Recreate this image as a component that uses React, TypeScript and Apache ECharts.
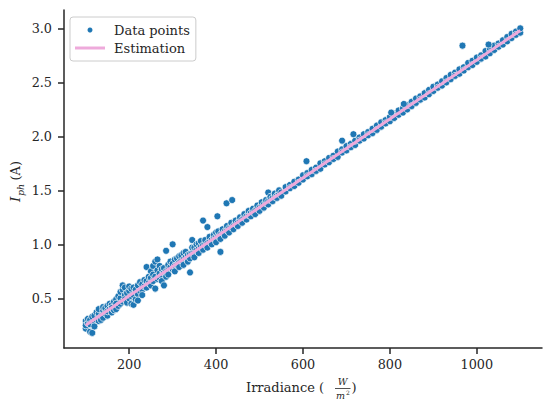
import React, { useEffect, useRef } from "react";
import * as echarts from "echarts";

const xTicks = [200, 400, 600, 800, 1000];
const yTicks = [0.5, 1.0, 1.5, 2.0, 2.5, 3.0];

const lowIrradiance = [
  100, 105, 110, 115, 120, 125, 130, 135, 140, 145, 150, 155, 160, 165, 170, 175, 180, 185, 190, 195,
  200, 205, 210, 215, 220, 225, 230, 235, 240, 245, 250, 255, 260, 265, 270, 275, 280, 285, 290, 295,
  300, 305, 310, 315, 320, 325, 330, 335, 340, 345, 350, 355, 360, 365, 370, 375, 380, 385, 390, 395,
  400, 405, 410, 415, 420, 425, 430, 435, 440, 445, 450, 455, 460, 465, 470, 475, 480, 485, 490, 495,
  500, 505, 510, 515, 520, 525, 530, 535, 540, 545, 550,
];
const lowCurrent = [
  [0.22, 0.29, 0.25], [0.27, 0.31], [0.19, 0.3, 0.26], [0.18, 0.33], [0.28, 0.34, 0.24],
  [0.37, 0.3], [0.29, 0.36, 0.4], [0.33, 0.3], [0.32, 0.39, 0.42], [0.36, 0.41],
  [0.34, 0.43, 0.38], [0.4, 0.45], [0.37, 0.44, 0.41], [0.47, 0.39], [0.4, 0.49, 0.45],
  [0.43, 0.52], [0.5, 0.56, 0.45], [0.58, 0.47, 0.62], [0.53, 0.6, 0.49], [0.55, 0.46],
  [0.5, 0.57, 0.61], [0.45, 0.52, 0.59], [0.44, 0.53, 0.6], [0.49, 0.58], [0.54, 0.62, 0.48],
  [0.57, 0.65], [0.58, 0.63, 0.53], [0.61, 0.67], [0.6, 0.66, 0.79], [0.64, 0.7],
  [0.62, 0.69, 0.75], [0.66, 0.72, 0.8], [0.59, 0.7, 0.84], [0.68, 0.76, 0.86], [0.69, 0.73, 0.8],
  [0.71, 0.77, 0.66], [0.62, 0.74, 0.78], [0.75, 0.94, 0.7], [0.76, 0.81, 0.72], [0.79, 0.84],
  [0.77, 0.82, 1.0], [0.8, 0.86, 0.75], [0.81, 0.87], [0.83, 0.89, 0.79], [0.85, 0.9],
  [0.86, 0.81, 0.92], [0.88, 0.93], [0.9, 0.84], [0.91, 0.87, 0.74], [0.92, 0.97, 1.04],
  [0.93, 0.88, 0.97], [0.95, 1.0], [0.96, 0.92, 1.01], [0.98, 1.03], [0.99, 0.95, 1.22],
  [1.0, 1.04], [1.01, 0.97, 1.16], [1.03, 1.07], [1.04, 1.0], [1.06, 1.09],
  [1.07, 1.02, 1.11], [1.08, 1.12], [1.09, 0.93, 1.05], [1.11, 1.14], [1.12, 1.08],
  [1.13, 1.17], [1.15, 1.11], [1.16, 1.2], [1.17, 1.14], [1.19, 1.22],
  [1.2, 1.17], [1.22, 1.25], [1.23, 1.2], [1.25, 1.28], [1.26, 1.23],
  [1.27, 1.31], [1.29, 1.26], [1.3, 1.33], [1.31, 1.28], [1.33, 1.36],
  [1.34, 1.31], [1.36, 1.39], [1.37, 1.34], [1.38, 1.41], [1.4, 1.37, 1.48],
  [1.41, 1.44], [1.43, 1.4], [1.44, 1.47], [1.45, 1.43], [1.47, 1.5], [1.48, 1.45],
];

const highIrradiance = [
  560, 570, 580, 590, 600, 610, 620, 630, 640, 650, 660, 670, 680, 690, 700, 710, 720, 730, 740, 750,
  760, 770, 780, 790, 800, 810, 820, 830, 840, 850, 860, 870, 880, 890, 900, 910, 920, 930, 940, 950,
  960, 970, 980, 990, 1000, 1010, 1020, 1030, 1040, 1050, 1060, 1070, 1080, 1090, 1100,
];
const highCurrent = [
  [1.49, 1.53], [1.55, 1.52], [1.54, 1.58], [1.6, 1.57], [1.6, 1.64],
  [1.66, 1.63], [1.65, 1.69], [1.71, 1.68], [1.7, 1.75], [1.77, 1.74],
  [1.76, 1.8], [1.82, 1.79], [1.81, 1.86], [1.88, 1.85], [1.87, 1.91],
  [1.93, 1.9], [1.92, 1.96], [1.99, 1.96], [1.98, 2.02], [2.04, 2.01],
  [2.03, 2.07], [2.1, 2.06], [2.09, 2.13], [2.15, 2.12], [2.14, 2.18],
  [2.21, 2.17], [2.2, 2.24], [2.26, 2.22], [2.25, 2.29], [2.32, 2.28],
  [2.31, 2.35], [2.37, 2.34], [2.36, 2.4], [2.43, 2.39], [2.42, 2.46],
  [2.48, 2.45], [2.47, 2.51], [2.54, 2.5], [2.53, 2.57], [2.59, 2.56],
  [2.58, 2.62], [2.64, 2.61], [2.64, 2.68], [2.7, 2.66], [2.69, 2.73],
  [2.75, 2.72], [2.74, 2.79], [2.81, 2.77], [2.8, 2.84], [2.86, 2.83],
  [2.85, 2.89], [2.92, 2.88], [2.91, 2.95], [2.97, 2.94], [2.96, 3.0],
];

const outlierIrradiance = [403, 424, 437, 608, 690, 716, 803, 832, 967, 1027];
const outlierCurrent = [1.26, 1.38, 1.41, 1.77, 1.96, 2.02, 2.22, 2.3, 2.84, 2.85];

const estimationIrradiance = [100, 1100];
const estimationCurrent = [0.25, 2.98];

const INK = "#262626";
const SERIF = "'DejaVu Serif', 'Liberation Serif', serif";
const BLUE = "#1f77b4";
const PINK = "#eeaadb";

export default function App() {
  const ref = useRef<HTMLDivElement>(null);

  useEffect(() => {
    document.body.style.margin = "0";
    if (!ref.current) return;
    const chart = echarts.init(ref.current, null, { renderer: "svg" });

    const scatterData: number[][] = [];
    lowIrradiance.forEach((g, i) => lowCurrent[i].forEach((v) => scatterData.push([g, v])));
    highIrradiance.forEach((g, i) => highCurrent[i].forEach((v) => scatterData.push([g, v])));
    outlierIrradiance.forEach((g, i) => scatterData.push([g, outlierCurrent[i]]));
    const lineData = estimationIrradiance.map((g, i) => [g, estimationCurrent[i]]);

    chart.setOption({
      animation: false,
      grid: { left: 64, right: 8, top: 10, bottom: 59 },
      xAxis: {
        type: "value",
        min: 50,
        max: 1150,
        splitLine: { show: false },
        axisLine: { show: true, onZero: false, lineStyle: { color: INK, width: 1.5 } },
        axisTick: { show: true, length: 6, customValues: xTicks, lineStyle: { color: INK, width: 1.5 } },
        axisLabel: {
          customValues: xTicks,
          color: INK,
          fontFamily: SERIF,
          fontSize: 12.8,
          margin: 10,
          formatter: (v: number) => String(v),
        },
      },
      yAxis: {
        type: "value",
        min: 0.04,
        max: 3.17,
        splitLine: { show: false },
        axisLine: { show: true, onZero: false, lineStyle: { color: INK, width: 1.5 } },
        axisTick: { show: true, length: 6, customValues: yTicks, lineStyle: { color: INK, width: 1.5 } },
        axisLabel: {
          customValues: yTicks,
          color: INK,
          fontFamily: SERIF,
          fontSize: 12.8,
          margin: 12,
          formatter: (v: number) => v.toFixed(1),
        },
      },
      legend: {
        left: 70,
        top: 17,
        orient: "vertical",
        padding: [5, 6, 5, 5],
        itemWidth: 30,
        itemHeight: 7,
        itemGap: 2,
        symbolKeepAspect: true,
        borderColor: "#cccccc",
        borderWidth: 1,
        borderRadius: 3,
        backgroundColor: "rgba(255,255,255,0.8)",
        textStyle: { fontFamily: SERIF, fontSize: 13, color: INK, lineHeight: 16, padding: [0, 0, 0, 4] },
        data: [
          { name: "Data points", icon: "circle" },
          { name: "Estimation", icon: "path://M0,0 L30,0 L30,3 L0,3 Z", itemStyle: { color: PINK } },
        ],
      },
      series: [
        {
          name: "Data points",
          type: "scatter",
          data: scatterData,
          symbolSize: 7,
          itemStyle: { color: BLUE, borderColor: "#ffffff", borderWidth: 0.7, opacity: 1 },
          z: 2,
        },
        {
          name: "Estimation",
          type: "line",
          data: lineData,
          symbol: "none",
          showSymbol: false,
          lineStyle: { color: PINK, width: 3 },
          itemStyle: { color: PINK },
          z: 3,
        },
      ],
      graphic: [
        {
          type: "group",
          x: 20,
          y: 202,
          rotation: Math.PI / 2,
          children: [
            { type: "text", x: 0, y: -5, style: { text: "I", font: `italic 13.5px ${SERIF}`, fill: INK, textAlign: "left", textVerticalAlign: "middle" } },
            { type: "text", x: 6, y: 0, style: { text: "ph", font: `italic 9.5px ${SERIF}`, fill: INK, textAlign: "left", textVerticalAlign: "middle" } },
            { type: "text", x: 21.5, y: -5, style: { text: "(A)", font: `13px ${SERIF}`, fill: INK, textAlign: "left", textVerticalAlign: "middle" } },
          ],
        },
        { type: "text", x: 246, y: 387, style: { text: "Irradiance (", font: `13px ${SERIF}`, fill: INK, textAlign: "left", textVerticalAlign: "middle" } },
        { type: "text", x: 342.5, y: 381.5, style: { text: "W", font: `italic 9.5px ${SERIF}`, fill: INK, textAlign: "center", textVerticalAlign: "middle" } },
        { type: "line", shape: { x1: 335, y1: 388.5, x2: 350.5, y2: 388.5 }, style: { stroke: INK, lineWidth: 0.8 } },
        { type: "text", x: 340.5, y: 395, style: { text: "m", font: `italic 9.5px ${SERIF}`, fill: INK, textAlign: "center", textVerticalAlign: "middle" } },
        { type: "text", x: 346, y: 392, style: { text: "2", font: `6px ${SERIF}`, fill: INK, textAlign: "left", textVerticalAlign: "middle" } },
        { type: "text", x: 351.5, y: 387, style: { text: ")", font: `13px ${SERIF}`, fill: INK, textAlign: "left", textVerticalAlign: "middle" } },
      ],
    });

    return () => chart.dispose();
  }, []);

  return <div ref={ref} style={{ width: 550, height: 407 }} />;
}
